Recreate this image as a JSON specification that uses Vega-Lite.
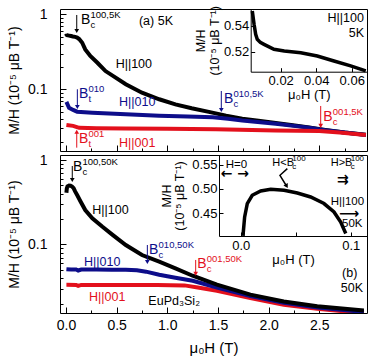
{
"$schema": "https://vega.github.io/schema/vega-lite/v6.json",
"background": "white",
"padding": {"left": 7, "top": 5, "right": 8, "bottom": 5},
"datasets": {
"t_lines": [
{"s":"100","x":0.004,"v":0.552},{"s":"100","x":0.006,"v":0.533},{"s":"100","x":0.01,"v":0.526},{"s":"100","x":0.03,"v":0.52},{"s":"100","x":0.05,"v":0.513},{"s":"100","x":0.068,"v":0.506},{"s":"100","x":0.09,"v":0.5},{"s":"100","x":0.11,"v":0.49},{"s":"100","x":0.13,"v":0.468},{"s":"100","x":0.16,"v":0.418},{"s":"100","x":0.19,"v":0.341},{"s":"100","x":0.24,"v":0.278},{"s":"100","x":0.31,"v":0.226},{"s":"100","x":0.39,"v":0.175},{"s":"100","x":0.49,"v":0.143},{"s":"100","x":0.59,"v":0.117},{"s":"100","x":0.75,"v":0.09},{"s":"100","x":0.92,"v":0.0736},{"s":"100","x":1.08,"v":0.063},{"s":"100","x":1.24,"v":0.0558},{"s":"100","x":1.41,"v":0.05},{"s":"100","x":1.58,"v":0.0445},{"s":"100","x":1.74,"v":0.0405},{"s":"100","x":1.9,"v":0.038},{"s":"100","x":2.07,"v":0.0355},{"s":"100","x":2.24,"v":0.0332},{"s":"100","x":2.4,"v":0.031},{"s":"100","x":2.56,"v":0.0287},{"s":"100","x":2.75,"v":0.0265},{"s":"100","x":2.96,"v":0.0248},
{"s":"010","x":0.004,"v":0.068},{"s":"010","x":0.03,"v":0.0568},{"s":"010","x":0.07,"v":0.053},{"s":"010","x":0.11,"v":0.0503},{"s":"010","x":0.26,"v":0.0488},{"s":"010","x":0.59,"v":0.0464},{"s":"010","x":0.92,"v":0.0445},{"s":"010","x":1.2,"v":0.0435},{"s":"010","x":1.45,"v":0.0425},{"s":"010","x":1.6,"v":0.0405},{"s":"010","x":1.74,"v":0.0383},{"s":"010","x":2.07,"v":0.0348},{"s":"010","x":2.4,"v":0.0308},{"s":"010","x":2.56,"v":0.0285},{"s":"010","x":2.75,"v":0.0265},{"s":"010","x":2.96,"v":0.0246},
{"s":"001","x":0.004,"v":0.0335},{"s":"001","x":0.07,"v":0.0325},{"s":"001","x":0.1,"v":0.0316},{"s":"001","x":0.13,"v":0.0306},{"s":"001","x":0.3,"v":0.0303},{"s":"001","x":0.59,"v":0.0301},{"s":"001","x":1.0,"v":0.0298},{"s":"001","x":1.48,"v":0.0293},{"s":"001","x":2.07,"v":0.0283},{"s":"001","x":2.5,"v":0.0277},{"s":"001","x":2.7,"v":0.0265},{"s":"001","x":2.96,"v":0.0246}
],
"b_lines": [
{"s":"100","x":0.004,"v":0.41},{"s":"100","x":0.008,"v":0.46},{"s":"100","x":0.015,"v":0.488},{"s":"100","x":0.03,"v":0.498},{"s":"100","x":0.045,"v":0.496},{"s":"100","x":0.06,"v":0.485},{"s":"100","x":0.075,"v":0.465},{"s":"100","x":0.09,"v":0.425},{"s":"100","x":0.11,"v":0.385},{"s":"100","x":0.145,"v":0.321},{"s":"100","x":0.19,"v":0.256},{"s":"100","x":0.26,"v":0.204},{"s":"100","x":0.36,"v":0.162},{"s":"100","x":0.46,"v":0.13},{"s":"100","x":0.59,"v":0.0986},{"s":"100","x":0.75,"v":0.0751},{"s":"100","x":0.92,"v":0.0626},{"s":"100","x":1.08,"v":0.0523},{"s":"100","x":1.25,"v":0.0427},{"s":"100","x":1.49,"v":0.0335},{"s":"100","x":1.82,"v":0.0255},{"s":"100","x":2.15,"v":0.0212},{"s":"100","x":2.48,"v":0.0186},{"s":"100","x":2.94,"v":0.0165},
{"s":"010","x":0.004,"v":0.051},{"s":"010","x":0.05,"v":0.0505},{"s":"010","x":0.1,"v":0.0505},{"s":"010","x":0.12,"v":0.0492},{"s":"010","x":0.15,"v":0.0505},{"s":"010","x":0.3,"v":0.0507},{"s":"010","x":0.45,"v":0.0502},{"s":"010","x":0.59,"v":0.0501},{"s":"010","x":0.7,"v":0.0495},{"s":"010","x":0.79,"v":0.0477},{"s":"010","x":0.92,"v":0.0438},{"s":"010","x":1.08,"v":0.0405},{"s":"010","x":1.25,"v":0.0372},{"s":"010","x":1.49,"v":0.031},{"s":"010","x":1.82,"v":0.0246},{"s":"010","x":2.15,"v":0.0204},{"s":"010","x":2.48,"v":0.0179},{"s":"010","x":2.94,"v":0.0159},
{"s":"001","x":0.004,"v":0.0333},{"s":"001","x":0.1,"v":0.0332},{"s":"001","x":0.12,"v":0.0324},{"s":"001","x":0.15,"v":0.0332},{"s":"001","x":0.5,"v":0.0331},{"s":"001","x":0.9,"v":0.0331},{"s":"001","x":1.17,"v":0.0328},{"s":"001","x":1.3,"v":0.031},{"s":"001","x":1.49,"v":0.0283},{"s":"001","x":1.82,"v":0.0232},{"s":"001","x":2.15,"v":0.0194},{"s":"001","x":2.48,"v":0.0173},{"s":"001","x":2.94,"v":0.0154}
],
"ti_line": [
{"x":0.004,"v":0.5517},{"x":0.005,"v":0.5413},{"x":0.0059,"v":0.5335},{"x":0.0068,"v":0.5296},{"x":0.0085,"v":0.5272},{"x":0.0106,"v":0.5257},{"x":0.0162,"v":0.5218},{"x":0.022,"v":0.5205},{"x":0.0313,"v":0.5192},{"x":0.0406,"v":0.5166},{"x":0.05,"v":0.5127},{"x":0.0594,"v":0.5089},{"x":0.0679,"v":0.505}
],
"bi_line": [
{"x":0.0022,"v":0.403},{"x":0.0024,"v":0.4109},{"x":0.0036,"v":0.4419},{"x":0.006,"v":0.4695},{"x":0.0105,"v":0.4866},{"x":0.0182,"v":0.4955},{"x":0.0273,"v":0.499},{"x":0.0394,"v":0.4969},{"x":0.0515,"v":0.4913},{"x":0.0636,"v":0.4831},{"x":0.0757,"v":0.4695},{"x":0.0848,"v":0.4522},{"x":0.0909,"v":0.4315},{"x":0.0955,"v":0.4076}
],
"t_arrows": [
{"x":0.106,"v1":0.979,"v2":0.6,"d":"down","c":"black"},
{"x":0.112,"v1":0.1,"v2":0.058,"d":"down","c":"blue"},
{"x":0.106,"v1":0.01665,"v2":0.0272,"d":"up","c":"red"},
{"x":1.533,"v1":0.0949,"v2":0.053,"d":"down","c":"blue"},
{"x":2.514,"v1":0.0599,"v2":0.0325,"d":"down","c":"red"}
],
"b_arrows": [
{"x":0.062,"v1":0.849,"v2":0.58,"d":"down","c":"black"},
{"x":0.803,"v1":0.0986,"v2":0.062,"d":"down","c":"blue"},
{"x":1.28,"v1":0.0656,"v2":0.045,"d":"down","c":"red"}
],
"t_sym": [
{"x":0.148,"v":0.852,"sub":"c","sup":"100,5K","c":"black"},
{"x":0.128,"v":0.0858,"sub":"t","sup":"010","c":"blue"},
{"x":0.128,"v":0.0216,"sub":"t","sup":"001","c":"red"},
{"x":1.56,"v":0.0743,"sub":"c","sup":"010,5K","c":"blue"},
{"x":2.54,"v":0.0431,"sub":"c","sup":"001,5K","c":"red"}
],
"b_sym": [
{"x":0.069,"v":0.833,"sub":"c","sup":"100,50K","c":"black"},
{"x":0.82,"v":0.0861,"sub":"c","sup":"010,50K","c":"blue"},
{"x":1.296,"v":0.0588,"sub":"c","sup":"001,50K","c":"red"}
],
"t_lab": [
{"x":0.72,"v":0.814,"t":"(a) 5K","c":"black"},
{"x":0.49,"v":0.215,"t":"H||100","c":"black"},
{"x":0.523,"v":0.0677,"t":"H||010","c":"blue"},
{"x":0.523,"v":0.0194,"t":"H||001","c":"red"}
],
"b_lab": [
{"x":0.26,"v":0.256,"t":"H||100","c":"black"},
{"x":0.178,"v":0.0616,"t":"H||010","c":"blue"},
{"x":0.227,"v":0.0241,"t":"H||001","c":"red"},
{"x":0.813,"v":0.0216,"t":"EuPd₃Si₂","c":"black"},
{"x":2.725,"v":0.0456,"t":"(b)","c":"black"},
{"x":2.712,"v":0.0303,"t":"50K","c":"black"}
],
"ti_lab": [
{"x":0.0669,"v":0.5465,"t":"H||100"},
{"x":0.0669,"v":0.5343,"t":"5K"}
],
"bi_txt": [
{"x":-0.0136,"v":0.5485,"t":"H=0"},
{"x":0.0818,"v":0.4728,"t":"H||100"},
{"x":0.0921,"v":0.4268,"t":"50K"}
],
"bi_sym": [
{"x":0.0287,"v":0.5526,"t":"H<B"},
{"x":0.0818,"v":0.5526,"t":"H>B"}
],
"bi_glyph": [
{"x":-0.0182,"v":0.5299,"t":"← →"},
{"x":0.0875,"v":0.5175,"t":"⇉"},
{"x":0.0894,"v":0.4489,"t":"⟶"}
],
"bi_bend": [
{"o":1,"x":0.0424,"v":0.5416},
{"o":2,"x":0.0357,"v":0.5278},
{"o":3,"x":0.0418,"v":0.5052}
]
},
"vconcat": [
{
"width": 307, "height": 142,
"layer": [
{"layer": [
{"data": {"name": "t_lines"}, "transform": [{"filter": "datum.s == '100'"}],
 "mark": {"type": "line", "color": "#000000", "strokeWidth": 4, "clip": true},
 "encoding": {
  "x": {"field": "x", "type": "quantitative", "scale": {"domain": [-0.0592, 2.971], "nice": false, "zero": false},
        "axis": {"orient": "bottom", "values": [0,0.5,1,1.5,2,2.5], "labels": false, "title": null, "domain": false, "tickSize": -6}},
  "y": {"field": "v", "type": "quantitative", "scale": {"type": "log", "domain": [0.01503, 1.177], "nice": false},
        "axis": {"orient": "left", "values": [0.1,1], "labelExpr": "datum.value == 1 ? '1' : '0.1'",
                 "labelFontSize": 14, "labelPadding": 19, "labelFlush": false, "labelOverlap": false, "domain": false, "tickSize": -6,
                 "title": "M/H (10⁻⁵ μB T⁻¹)", "titleFontSize": 14, "titlePadding": 6}}
 }},
{"data": {"name": "t_lines"}, "transform": [{"filter": "datum.s == '010'"}],
 "mark": {"type": "line", "color": "#0d0d8a", "strokeWidth": 4, "clip": true},
 "encoding": {
  "x": {"field": "x", "type": "quantitative", "axis": {"orient": "bottom", "values": [0.25,0.75,1.25,1.75,2.25,2.75], "labels": false, "title": null, "domain": false, "tickSize": -3}},
  "y": {"field": "v", "type": "quantitative", "axis": {"orient": "left", "values": [0.02,0.03,0.04,0.05,0.06,0.07,0.08,0.09,0.2,0.3,0.4,0.5,0.6,0.7,0.8,0.9], "labels": false, "title": null, "domain": false, "tickSize": -3}}}},
{"data": {"name": "t_lines"}, "transform": [{"filter": "datum.s == '001'"}],
 "mark": {"type": "line", "color": "#e3101c", "strokeWidth": 4, "clip": true},
 "encoding": {"x": {"field": "x", "type": "quantitative", "axis": null}, "y": {"field": "v", "type": "quantitative", "axis": null}}},
{"data": {"name": "t_arrows"}, "mark": {"type": "rule", "strokeWidth": 1},
 "encoding": {"x": {"field": "x", "type": "quantitative", "axis": null}, "y": {"field": "v1", "type": "quantitative", "axis": null}, "y2": {"field": "v2"},
  "color": {"field": "c", "type": "nominal", "scale": {"domain": ["black","blue","red"], "range": ["#000000","#0d0d8a","#e3101c"]}, "legend": null}}},
{"data": {"name": "t_arrows"}, "mark": {"type": "point", "filled": true, "size": 22, "opacity": 1},
 "encoding": {"x": {"field": "x", "type": "quantitative", "axis": null}, "y": {"field": "v2", "type": "quantitative", "axis": null},
  "shape": {"field": "d", "type": "nominal", "scale": {"domain": ["down","up"], "range": ["triangle-down","triangle-up"]}, "legend": null},
  "color": {"field": "c", "type": "nominal", "legend": null}}},
{"data": {"name": "t_lab"}, "mark": {"type": "text", "align": "left", "baseline": "middle", "fontSize": 12.5},
 "encoding": {"x": {"field": "x", "type": "quantitative", "axis": null}, "y": {"field": "v", "type": "quantitative", "axis": null},
  "text": {"field": "t"}, "color": {"field": "c", "type": "nominal", "legend": null}}},
{"data": {"name": "t_sym"}, "mark": {"type": "text", "align": "left", "baseline": "middle", "fontSize": 14},
 "encoding": {"x": {"field": "x", "type": "quantitative", "axis": null}, "y": {"field": "v", "type": "quantitative", "axis": null},
  "text": {"value": "B"}, "color": {"field": "c", "type": "nominal", "legend": null}}},
{"data": {"name": "t_sym"}, "mark": {"type": "text", "align": "left", "baseline": "middle", "fontSize": 9.5, "dx": 9.5, "dy": 5},
 "encoding": {"x": {"field": "x", "type": "quantitative", "axis": null}, "y": {"field": "v", "type": "quantitative", "axis": null},
  "text": {"field": "sub"}, "color": {"field": "c", "type": "nominal", "legend": null}}},
{"data": {"name": "t_sym"}, "mark": {"type": "text", "align": "left", "baseline": "middle", "fontSize": 9.5, "dx": 9.5, "dy": -5},
 "encoding": {"x": {"field": "x", "type": "quantitative", "axis": null}, "y": {"field": "v", "type": "quantitative", "axis": null},
  "text": {"field": "sup"}, "color": {"field": "c", "type": "nominal", "legend": null}}}
],
"resolve": {"axis": {"x": "independent", "y": "independent"}}},
{"layer": [
{"data": {"name": "ti_line"}, "mark": {"type": "line", "color": "#000000", "strokeWidth": 3.5, "clip": true},
 "encoding": {
  "x": {"field": "x", "type": "quantitative", "scale": {"domain": [0.0031, 0.0686], "range": [190.7, 307], "nice": false, "zero": false},
        "axis": {"orient": "bottom", "offset": -79.3, "values": [0.02,0.04,0.06], "format": ".2f",
                 "labelFontSize": 13, "labelFlush": false, "labelOverlap": false, "labelPadding": 7, "domain": true,
                 "tickSize": -4, "title": "μ₀H (T)", "titleFontSize": 13, "titlePadding": 1}},
  "y": {"field": "v", "type": "quantitative", "scale": {"domain": [0.5044, 0.5532], "range": [62.7, 0], "nice": false, "zero": false},
        "axis": {"orient": "left", "offset": -190.7, "values": [0.52,0.54], "format": ".2f",
                 "labelFontSize": 13, "labelFlush": false, "labelOverlap": false, "labelPadding": 6, "domain": true,
                 "tickSize": -4, "title": ["M/H", "(10⁻⁵ μB T⁻¹)"], "titleFontSize": 12.5, "titleLineHeight": 14, "titlePadding": 2}}
 }},
{"data": {"name": "ti_lab"}, "mark": {"type": "text", "align": "right", "baseline": "middle", "fontSize": 12.5, "color": "#000000"},
 "encoding": {"x": {"field": "x", "type": "quantitative", "axis": null}, "y": {"field": "v", "type": "quantitative", "axis": null}, "text": {"field": "t"}}}
],
"resolve": {"axis": {"x": "independent", "y": "independent"}}}
],
"resolve": {"scale": {"x": "independent", "y": "independent"}}
},
{
"width": 307, "height": 158,
"layer": [
{"layer": [
{"data": {"name": "b_lines"}, "transform": [{"filter": "datum.s == '001'"}],
 "mark": {"type": "line", "color": "#e3101c", "strokeWidth": 4, "clip": true},
 "encoding": {
  "x": {"field": "x", "type": "quantitative", "scale": {"domain": [-0.0592, 2.971], "nice": false, "zero": false},
        "axis": {"orient": "bottom", "values": [0,0.5,1,1.5,2,2.5], "format": ".1f",
                 "labelFontSize": 14, "labelFlush": false, "labelOverlap": false, "labelPadding": 11, "domain": false, "tickSize": -6,
                 "title": "μ₀H (T)", "titleFontSize": 15, "titlePadding": 8}},
  "y": {"field": "v", "type": "quantitative", "scale": {"type": "log", "domain": [0.01546, 1.146], "nice": false},
        "axis": {"orient": "left", "values": [0.1,1], "labelExpr": "datum.value == 1 ? '1' : '0.1'",
                 "labelFontSize": 14, "labelPadding": 19, "labelFlush": false, "labelOverlap": false, "domain": false, "tickSize": -6,
                 "title": "M/H (10⁻⁵ μB T⁻¹)", "titleFontSize": 14, "titlePadding": 6}}
 }},
{"data": {"name": "b_lines"}, "transform": [{"filter": "datum.s == '010'"}],
 "mark": {"type": "line", "color": "#0d0d8a", "strokeWidth": 4, "clip": true},
 "encoding": {
  "x": {"field": "x", "type": "quantitative", "axis": {"orient": "bottom", "values": [0.25,0.75,1.25,1.75,2.25,2.75], "labels": false, "title": null, "domain": false, "tickSize": -3}},
  "y": {"field": "v", "type": "quantitative", "axis": {"orient": "left", "values": [0.02,0.03,0.04,0.05,0.06,0.07,0.08,0.09,0.2,0.3,0.4,0.5,0.6,0.7,0.8,0.9], "labels": false, "title": null, "domain": false, "tickSize": -3}}}},
{"data": {"name": "b_lines"}, "transform": [{"filter": "datum.s == '100'"}],
 "mark": {"type": "line", "color": "#000000", "strokeWidth": 4, "clip": true},
 "encoding": {"x": {"field": "x", "type": "quantitative", "axis": null}, "y": {"field": "v", "type": "quantitative", "axis": null}}},
{"data": {"name": "b_arrows"}, "mark": {"type": "rule", "strokeWidth": 1},
 "encoding": {"x": {"field": "x", "type": "quantitative", "axis": null}, "y": {"field": "v1", "type": "quantitative", "axis": null}, "y2": {"field": "v2"},
  "color": {"field": "c", "type": "nominal", "scale": {"domain": ["black","blue","red"], "range": ["#000000","#0d0d8a","#e3101c"]}, "legend": null}}},
{"data": {"name": "b_arrows"}, "mark": {"type": "point", "filled": true, "size": 22, "opacity": 1},
 "encoding": {"x": {"field": "x", "type": "quantitative", "axis": null}, "y": {"field": "v2", "type": "quantitative", "axis": null},
  "shape": {"field": "d", "type": "nominal", "scale": {"domain": ["down","up"], "range": ["triangle-down","triangle-up"]}, "legend": null},
  "color": {"field": "c", "type": "nominal", "legend": null}}},
{"data": {"name": "b_lab"}, "mark": {"type": "text", "align": "left", "baseline": "middle", "fontSize": 12.5},
 "encoding": {"x": {"field": "x", "type": "quantitative", "axis": null}, "y": {"field": "v", "type": "quantitative", "axis": null},
  "text": {"field": "t"}, "color": {"field": "c", "type": "nominal", "legend": null}}},
{"data": {"name": "b_sym"}, "mark": {"type": "text", "align": "left", "baseline": "middle", "fontSize": 14},
 "encoding": {"x": {"field": "x", "type": "quantitative", "axis": null}, "y": {"field": "v", "type": "quantitative", "axis": null},
  "text": {"value": "B"}, "color": {"field": "c", "type": "nominal", "legend": null}}},
{"data": {"name": "b_sym"}, "mark": {"type": "text", "align": "left", "baseline": "middle", "fontSize": 9.5, "dx": 9.5, "dy": 5},
 "encoding": {"x": {"field": "x", "type": "quantitative", "axis": null}, "y": {"field": "v", "type": "quantitative", "axis": null},
  "text": {"field": "sub"}, "color": {"field": "c", "type": "nominal", "legend": null}}},
{"data": {"name": "b_sym"}, "mark": {"type": "text", "align": "left", "baseline": "middle", "fontSize": 9.5, "dx": 9.5, "dy": -5},
 "encoding": {"x": {"field": "x", "type": "quantitative", "axis": null}, "y": {"field": "v", "type": "quantitative", "axis": null},
  "text": {"field": "sup"}, "color": {"field": "c", "type": "nominal", "legend": null}}}
],
"resolve": {"axis": {"x": "independent", "y": "independent"}}},
{"layer": [
{"data": {"name": "bi_line"}, "mark": {"type": "line", "color": "#000000", "strokeWidth": 3.5, "clip": true},
 "encoding": {
  "x": {"field": "x", "type": "quantitative", "scale": {"domain": [-0.0197, 0.1148], "range": [159, 307], "nice": false, "zero": false},
        "axis": {"orient": "bottom", "offset": -77, "values": [0, 0.05, 0.1], "labelExpr": "datum.value == 0.05 ? '' : format(datum.value, '.1f')",
                 "labelFontSize": 13, "labelFlush": false, "labelOverlap": false, "labelPadding": 7, "domain": true,
                 "tickSize": -4, "title": "μ₀H (T)", "titleFontSize": 13, "titlePadding": 1}},
  "y": {"field": "v", "type": "quantitative", "scale": {"domain": [0.4026, 0.5696], "range": [81, 0], "nice": false, "zero": false},
        "axis": {"orient": "left", "offset": -159, "values": [0.45,0.5,0.55], "format": ".2f",
                 "labelFontSize": 13, "labelFlush": false, "labelOverlap": false, "labelPadding": 6, "domain": true,
                 "tickSize": -4, "title": ["M/H", "(10⁻⁵ μB T⁻¹)"], "titleFontSize": 12.5, "titleLineHeight": 13, "titlePadding": 5}}
 }},
{"data": {"name": "bi_bend"}, "mark": {"type": "line", "color": "#000000", "strokeWidth": 1.5},
 "encoding": {"x": {"field": "x", "type": "quantitative", "axis": null}, "y": {"field": "v", "type": "quantitative", "axis": null}, "order": {"field": "o"}}},
{"data": {"name": "bi_bend"}, "transform": [{"filter": "datum.o == 3"}], "mark": {"type": "point", "shape": "triangle-up", "angle": 150, "filled": true, "size": 25, "color": "#000000", "opacity": 1},
 "encoding": {"x": {"field": "x", "type": "quantitative", "axis": null}, "y": {"field": "v", "type": "quantitative", "axis": null}}},
{"data": {"name": "bi_txt"}, "mark": {"type": "text", "align": "left", "baseline": "middle", "fontSize": 11.5, "color": "#000000"},
 "encoding": {"x": {"field": "x", "type": "quantitative", "axis": null}, "y": {"field": "v", "type": "quantitative", "axis": null}, "text": {"field": "t"}}},
{"data": {"name": "bi_sym"}, "mark": {"type": "text", "align": "left", "baseline": "middle", "fontSize": 11, "color": "#000000"},
 "encoding": {"x": {"field": "x", "type": "quantitative", "axis": null}, "y": {"field": "v", "type": "quantitative", "axis": null}, "text": {"field": "t"}}},
{"data": {"name": "bi_sym"}, "mark": {"type": "text", "align": "left", "baseline": "middle", "fontSize": 8, "dx": 20, "dy": 4, "color": "#000000"},
 "encoding": {"x": {"field": "x", "type": "quantitative", "axis": null}, "y": {"field": "v", "type": "quantitative", "axis": null}, "text": {"value": "c"}}},
{"data": {"name": "bi_sym"}, "mark": {"type": "text", "align": "left", "baseline": "middle", "fontSize": 8, "dx": 20, "dy": -4, "color": "#000000"},
 "encoding": {"x": {"field": "x", "type": "quantitative", "axis": null}, "y": {"field": "v", "type": "quantitative", "axis": null}, "text": {"value": "100"}}},
{"data": {"name": "bi_glyph"}, "mark": {"type": "text", "align": "left", "baseline": "middle", "fontSize": 14, "fontWeight": "bold", "font": "DejaVu Sans", "color": "#000000"},
 "encoding": {"x": {"field": "x", "type": "quantitative", "axis": null}, "y": {"field": "v", "type": "quantitative", "axis": null}, "text": {"field": "t"}}}
],
"resolve": {"axis": {"x": "independent", "y": "independent"}}}
],
"resolve": {"scale": {"x": "independent", "y": "independent"}}
}
],
"spacing": 0,
"config": {
 "view": {"stroke": "#000000", "strokeWidth": 1},
 "font": "Liberation Sans",
 "axis": {"grid": false, "domainColor": "#000000", "tickColor": "#000000", "labelColor": "#000000", "titleColor": "#000000", "titleFontWeight": "normal", "labelFont": "Liberation Sans", "titleFont": "Liberation Sans"},
 "text": {"font": "Liberation Sans"}
}
}
